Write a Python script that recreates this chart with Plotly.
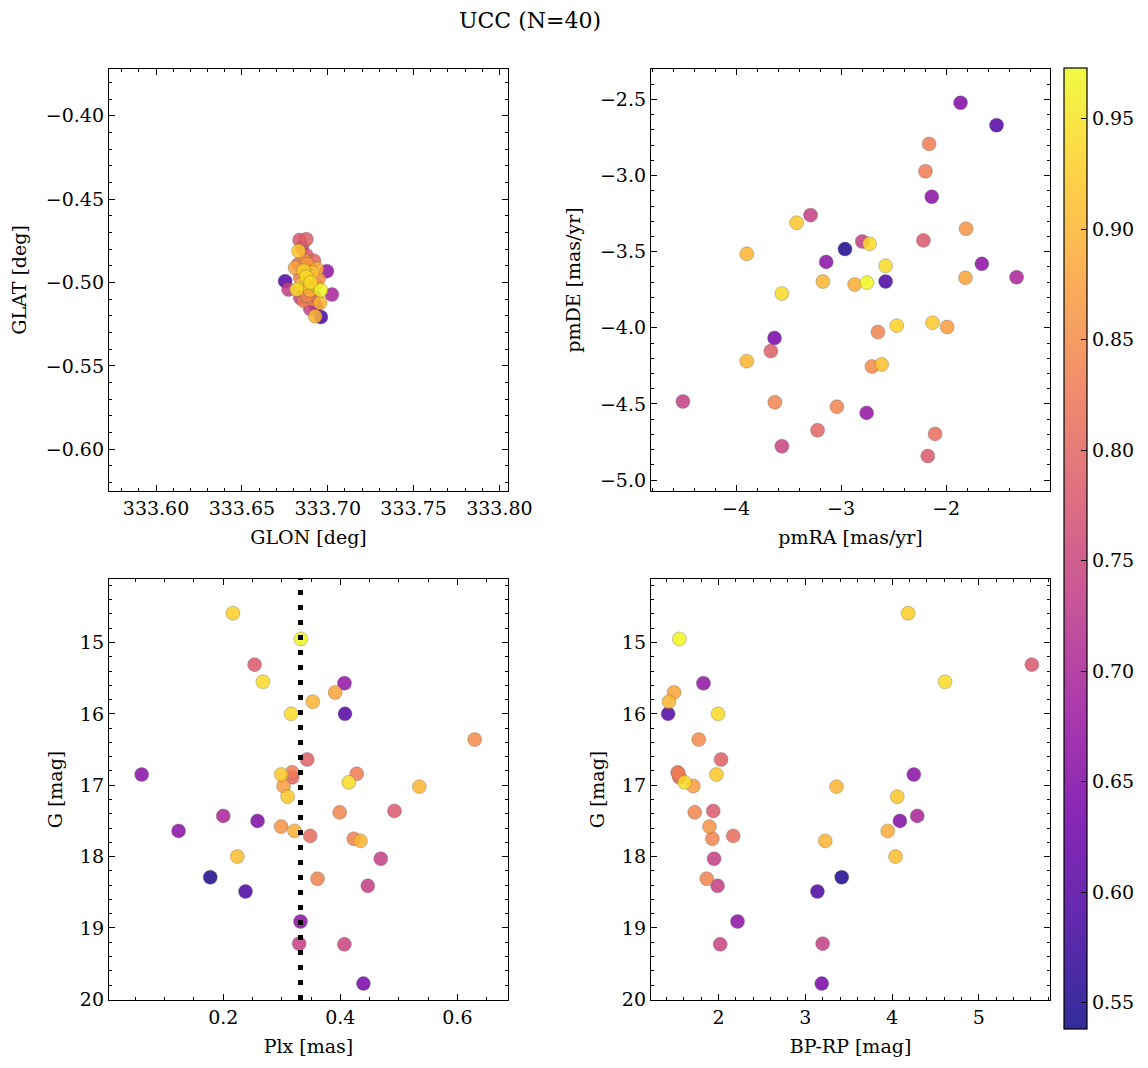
import numpy as np
import plotly.graph_objects as go

# ---------------- data (one entry per star, 40 stars) ----------------
prob = [0.93, 0.97, 0.78, 0.94, 0.67, 0.88, 0.90, 0.94, 0.60, 0.85,
        0.79, 0.66, 0.92, 0.83, 0.80, 0.83, 0.94, 0.87, 0.90, 0.92,
        0.84, 0.78, 0.70, 0.65, 0.66, 0.86, 0.89, 0.81, 0.84, 0.90,
        0.91, 0.74, 0.55, 0.84, 0.74, 0.59, 0.66, 0.74, 0.75, 0.64]

plx = [0.2165, 0.3326, 0.2535, 0.2677, 0.4071, 0.3912, 0.3530, 0.3160, 0.4080, 0.6296,
       0.3434, 0.0606, 0.2990, 0.3178, 0.3178, 0.4280, 0.4145, 0.3030, 0.5350, 0.3100,
       0.3990, 0.4925, 0.2000, 0.2586, 0.1237, 0.2990, 0.3218, 0.3485, 0.4230, 0.4344,
       0.2240, 0.4691, 0.1778, 0.3610, 0.4470, 0.2380, 0.3320, 0.3297, 0.4070, 0.4395]

gmag = [14.59, 14.95, 15.31, 15.55, 15.57, 15.70, 15.83, 16.00, 16.00, 16.36,
        16.64, 16.85, 16.85, 16.82, 16.89, 16.84, 16.96, 17.01, 17.02, 17.16,
        17.38, 17.36, 17.43, 17.50, 17.64, 17.58, 17.64, 17.71, 17.75, 17.78,
        18.00, 18.03, 18.29, 18.31, 18.41, 18.49, 18.91, 19.22, 19.23, 19.78]

bprp = [4.185, 1.550, 5.610, 4.610, 1.827, 1.488, 1.430, 1.996, 1.420, 1.773,
        2.030, 4.250, 1.977, 1.530, 1.550, 1.540, 1.610, 1.710, 3.360, 4.060,
        1.727, 1.940, 4.290, 4.090, None, 1.896, 3.950, 2.170, 1.930, 3.230,
        4.040, 1.950, 3.420, 1.865, 1.990, 3.140, 2.220, 3.200, 2.020, 3.190]

pmra = [-2.470, -2.754, -2.216, -2.728, -2.757, -1.816, -3.898, -2.576, -1.520, -2.706,
        -3.669, -2.137, -3.424, -2.162, -3.224, -2.197, -3.564, -1.990, -3.173, -2.130,
        -2.649, -2.175, -1.329, -1.863, -3.142, -1.810, -2.871, -2.105, -3.631, -3.898,
        -2.614, -3.291, -2.963, -3.040, -2.798, -2.576, -1.660, -4.506, -3.564, -3.634]

pmde = [-3.986, -3.703, -3.426, -3.448, -4.559, -3.672, -3.514, -3.593, -2.669, -4.254,
        -4.153, -3.139, -3.310, -2.792, -4.673, -2.972, -3.775, -3.995, -3.696, -3.966,
        -4.028, -4.842, -3.668, -2.522, -3.567, -3.349, -3.716, -4.697, -4.489, -4.219,
        -4.241, -3.260, -3.483, -4.519, -3.433, -3.696, -3.580, -4.484, -4.778, -4.067]

glon = [333.6860, 333.6960, 333.6836, 333.6875, 333.6995, 333.6810, 333.6927, 333.6820, 333.6752, 333.6870,
        333.6875, 333.6860, 333.6830, 333.6840, 333.6920, 333.6860, 333.6900, 333.6882, 333.6956, 333.6850,
        333.6930, 333.6875, 333.7024, 333.6920, 333.6890, 333.6947, 333.6937, 333.6830, 333.6910, 333.6898,
        333.6910, 333.6772, 333.6880, 333.6880, 333.6840, 333.6960, 333.6900, 333.6898, 333.6850, 333.6930]

glat = [-0.4930, -0.5046, -0.4745, -0.4966, -0.4932, -0.4912, -0.5203, -0.5042, -0.4992, -0.4870,
        -0.4741, -0.5050, -0.4811, -0.4970, -0.4870, -0.5110, -0.5000, -0.4892, -0.5122, -0.5010,
        -0.5010, -0.4837, -0.5072, -0.5080, -0.4900, -0.4978, -0.4918, -0.4890, -0.5100, -0.5046,
        -0.4940, -0.5042, -0.4970, -0.5080, -0.5092, -0.5207, -0.5030, -0.5158, -0.4790, -0.5140]

plx_median = 0.332
title_text = "UCC (N=40)"

# ---------------- styling ----------------
FONT = "DejaVu Serif"
FS = 19
OFF = 8                      # browser body margin
W, H = 1148 - OFF, 1068 - OFF
CMIN, CMAX = 0.538, 0.973
plasma = ['#0d0887', '#46039f', '#7201a8', '#9c179e', '#bd3786',
          '#d8576b', '#ed7953', '#fb9f3a', '#fdca26', '#f0f921']
ALPHA = 0.85


def px_x(x):
    return (x - OFF) / W


def px_y(y):
    return 1 - (y - OFF) / H


def rgba(hx, a):
    hx = hx.lstrip('#')
    r, g, b = int(hx[0:2], 16), int(hx[2:4], 16), int(hx[4:6], 16)
    return f"rgba({r},{g},{b},{a})"


cscale = [[i / (len(plasma) - 1), rgba(c, ALPHA)] for i, c in enumerate(plasma)]

order = np.argsort(prob, kind="stable")
P = np.array(prob)[order]


def arr(a):
    return np.array([np.nan if v is None else v for v in a], dtype=float)[order]


def marker(show):
    m = dict(size=14, color=P, colorscale=cscale, cmin=CMIN, cmax=CMAX,
             line=dict(width=0.6, color="rgba(90,90,90,0.55)"), showscale=show)
    if show:
        m["colorbar"] = dict(
            x=px_x(1064), xanchor="left", xpad=0, ypad=0,
            y=px_y((68 + 1029) / 2), yanchor="middle",
            len=(1029 - 68) / H, lenmode="fraction", thickness=23,
            outlinewidth=1.2, outlinecolor="black",
            ticks="inside", ticklen=6, tickcolor="black", tickwidth=1,
            dtick=0.05, tick0=0.55, tickformat=".2f",
            tickfont=dict(family=FONT, size=FS, color="black"))
    return m


fig = go.Figure()
fig.add_trace(go.Scatter(x=arr(glon), y=arr(glat), mode="markers", marker=marker(True),
                         xaxis="x", yaxis="y", showlegend=False))
fig.add_trace(go.Scatter(x=arr(pmra), y=arr(pmde), mode="markers", marker=marker(False),
                         xaxis="x2", yaxis="y2", showlegend=False))
fig.add_trace(go.Scatter(x=arr(plx), y=arr(gmag), mode="markers", marker=marker(False),
                         xaxis="x3", yaxis="y3", showlegend=False))
fig.add_trace(go.Scatter(x=arr(bprp), y=arr(gmag), mode="markers", marker=marker(False),
                         xaxis="x4", yaxis="y4", showlegend=False))


def ax(title, rng, dtick, minor, fmt, domain, anchor, tick0=None, standoff=12):
    d = dict(domain=domain, anchor=anchor, range=rng, autorange=False,
             title=dict(text=title, font=dict(family=FONT, size=FS, color="black"), standoff=standoff),
             showline=True, linecolor="black", linewidth=1.3, mirror="allticks",
             ticks="inside", ticklen=6, tickwidth=1, tickcolor="black",
             dtick=dtick, tickformat=fmt, showgrid=False, zeroline=False,
             tickfont=dict(family=FONT, size=FS, color="black"), automargin=False,
             minor=dict(ticks="inside", ticklen=3, tickwidth=1, tickcolor="black",
                        dtick=minor, showgrid=False))
    if tick0 is not None:
        d["tick0"] = tick0
        d["minor"]["tick0"] = tick0
    return d


xL = [px_x(109), px_x(508)]
xR = [px_x(651), px_x(1050)]
yT = [px_y(491), px_y(69)]
yB = [px_y(1000), px_y(579)]

fig.update_layout(
    width=W, height=H,
    margin=dict(l=0, r=0, t=0, b=0),
    paper_bgcolor="white", plot_bgcolor="white",
    font=dict(family=FONT, size=FS, color="black"),
    title=dict(text=title_text, x=px_x(530), xanchor="center", y=px_y(20), yanchor="middle",
               font=dict(family=FONT, size=22, color="black")),
    xaxis=ax("GLON [deg]", [333.5726, 333.805], 0.05, 0.01, ".2f", xL, "y", tick0=333.6),
    yaxis=ax("GLAT [deg]", [-0.625, -0.372], 0.05, 0.01, ".2f", yT, "x", tick0=-0.6, standoff=14),
    xaxis2=ax("pmRA [mas/yr]", [-4.81, -1.011], 1, 0.2, "d", xR, "y2", tick0=-4),
    yaxis2=ax("pmDE [mas/yr]", [-5.072, -2.30], 0.5, 0.1, ".1f", yT, "x2", tick0=-5, standoff=14),
    xaxis3=ax("Plx [mas]", [0.0048, 0.6865], 0.2, 0.05, ".1f", xL, "y3", tick0=0),
    yaxis3=ax("G [mag]", [20.01, 14.11], 1, 0.2, "d", yB, "x3", tick0=14, standoff=12),
    xaxis4=ax("BP-RP [mag]", [1.223, 5.819], 1, 0.2, "d", xR, "y4", tick0=0),
    yaxis4=ax("G [mag]", [20.01, 14.11], 1, 0.2, "d", yB, "x4", tick0=14, standoff=12),
)

fig.add_shape(type="line", xref="x3", yref="y3 domain", x0=plx_median, x1=plx_median,
              y0=0, y1=1, line=dict(color="black", width=5, dash="5px,10px"), layer="above")

fig.write_html("out.html")
